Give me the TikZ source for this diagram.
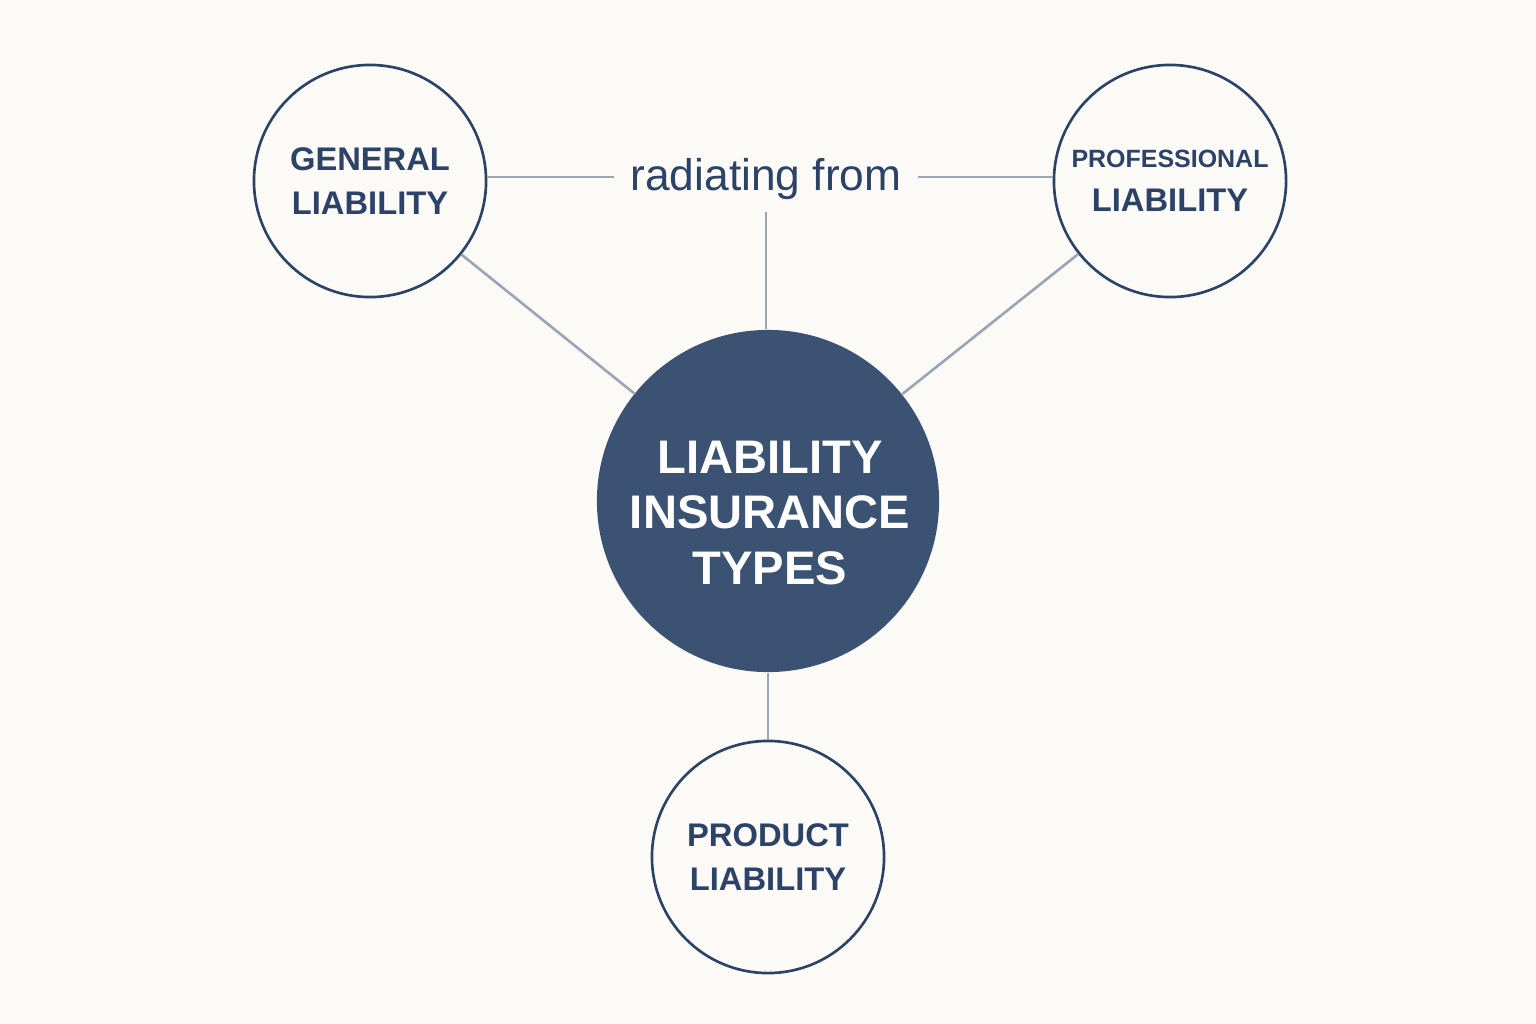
\documentclass[tikz,border=0pt]{standalone}
\usepackage{fontspec}
\setmainfont{Liberation Sans}
\definecolor{navy}{HTML}{2C4266}
\definecolor{hubfill}{HTML}{3B5273}
\definecolor{spoke}{HTML}{9AA6B5}
\definecolor{paper}{HTML}{FBFAF7}
\tikzset{
  leaf/.style={circle, draw=navy, line width=0.75pt, fill=paper, minimum size=2.32cm,
    inner sep=0pt, align=center, text=navy, font=\fontsize{9.3}{12.4}\selectfont\bfseries},
  spokeline/.style={draw=spoke, line width=0.75pt},
}
\begin{document}
\begin{tikzpicture}[x=0.01cm, y=-0.01cm]
  \fill[paper] (0,0) rectangle (1536,1024);
  \useasboundingbox (0,0) rectangle (1536,1024);

  \node[circle, fill=hubfill, minimum size=3.42cm, inner sep=0pt] (hub) at (768,501) {};
  \node[align=center, text=white, font=\fontsize{13.4}{15.7}\selectfont\bfseries]
    (hubtext) at (770,513) {LIABILITY\\INSURANCE\\TYPES};
  \node[leaf] (gen) at (370,181) {GENERAL\\LIABILITY};
  \node[leaf] (prof) at (1170,181) {{\fontsize{7.1}{13.3}\selectfont PROFESSIONAL}\\LIABILITY};
  \node[leaf] (prod) at (768,857) {PRODUCT\\LIABILITY};
  \node[text=navy, font=\fontsize{12.6}{14}\selectfont, inner xsep=4.5pt] (rad) at (766,179) {radiating from};

  % spokes
  \draw[spokeline] (gen.2) -- (gen.2 -| rad.west);
  \draw[spokeline] (prof.178) -- (prof.178 -| rad.east);
  \draw[spokeline] (rad.south) -- (rad.south |- hub.north);
  \draw[spokeline] (gen) -- (hub);
  \draw[spokeline] (prof) -- (hub);
  \draw[spokeline] (hub.south) -- (prod.north);
\end{tikzpicture}
\end{document}
